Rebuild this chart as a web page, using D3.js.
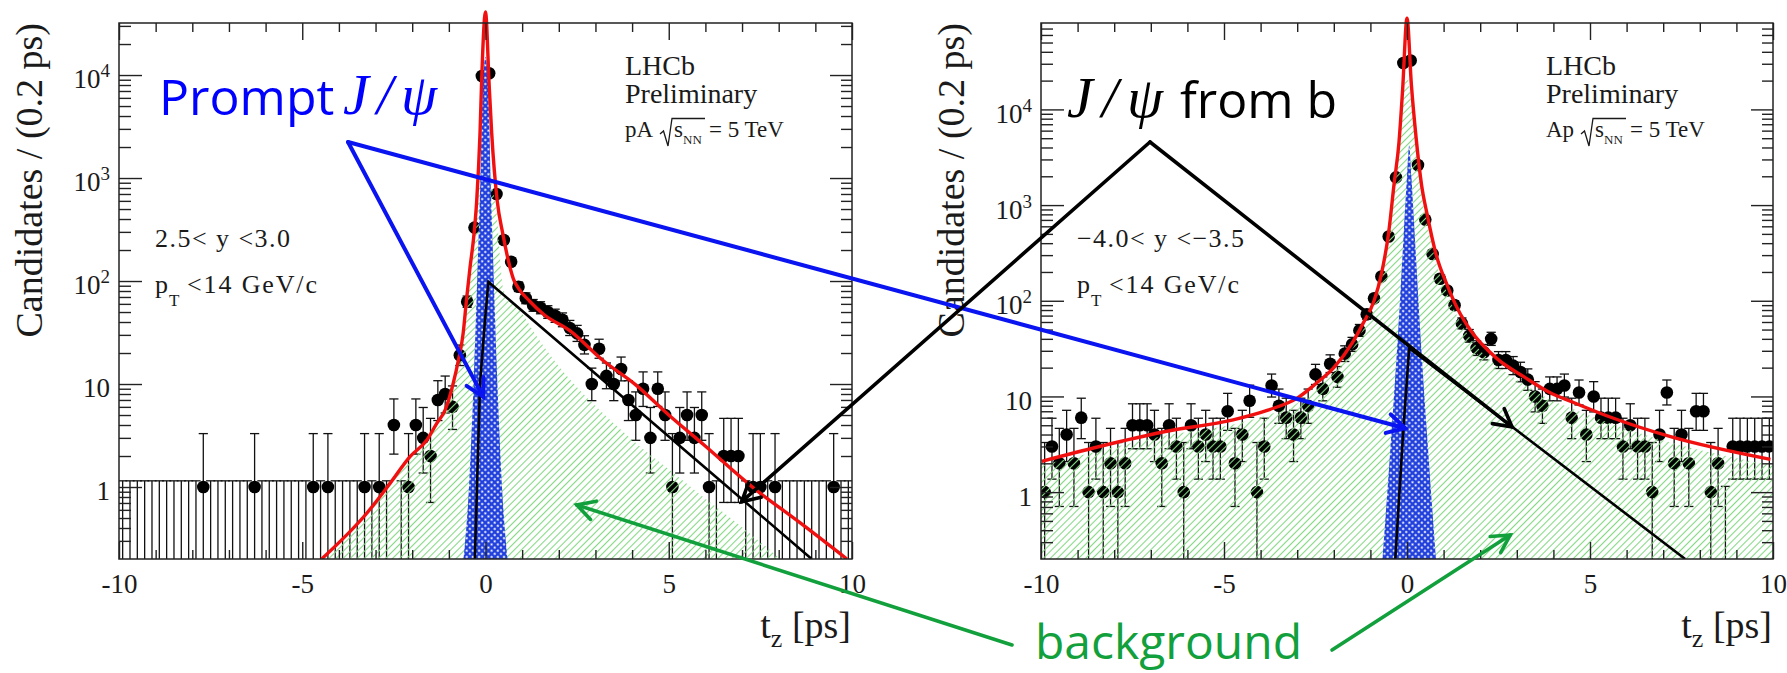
<!DOCTYPE html>
<html>
<head>
<meta charset="utf-8">
<script src="https://cdn.jsdelivr.net/npm/d3@7"></script>
<style>
  body { margin: 0; background: #fff; }
  svg { display: block; }
</style>
</head>
<body>
<svg id="fig" width="1787" height="673"></svg>
<script>
'use strict';
// ---- data: 100 bins of 0.2 ps between -10 and 10 ----
const binCenters = d3.range(100).map(i => -9.9 + 0.2 * i);

// pA, 2.5<y<3.0
const countsPA = [
    0, 0, 0, 0, 0, 0, 0, 0, 0, 0,
    0, 1, 0, 0, 0, 0, 0, 0, 1, 0,
    0, 0, 0, 0, 0, 0, 1, 0, 1, 0,
    0, 0, 0, 1, 0, 1, 0, 4, 0, 1,
    4, 3, 2, 7, 8, 6, 19, 63, 330, 9800,
    10400, 700, 250, 154, 88, 68, 58, 55, 50, 46,
    42, 35, 31, 24, 10, 22, 12, 10, 14, 7,
    5, 9, 3, 9, 5, 1, 3, 5, 3, 5,
    1, 0, 2, 2, 2, 0, 1, 1, 0, 1,
    0, 0, 0, 0, 0, 0, 0, 1, 0, 0
];
// Ap, -4.0<y<-3.5
const countsAp = [
    1, 3, 2, 4, 2, 6, 1, 3, 1, 2,
    1, 2, 5, 5, 5, 4, 2, 5, 3, 1,
    5, 3, 4, 3, 3, 7, 2, 4, 9, 1,
    3, 13, 8, 6, 4, 6, 8, 17, 12, 22,
    16, 28, 35, 49, 72, 106, 179, 470, 1950, 30500,
    32500, 2620, 705, 308, 170, 128, 90, 58, 43, 32,
    29, 40, 24, 24, 21, 18, 15, 10, 8, 12,
    12, 13, 6, 11, 4, 10, 6, 6, 6, 3,
    5, 3, 3, 1, 4, 11, 2, 4, 2, 7,
    7, 1, 2, 0, 3, 3, 3, 3, 3, 3
];

// fit components, [t (ps), candidates]
const totalPA = [[-4.47, 0.2], [-3.24, 0.556], [-2.6, 1.09], [-2.06, 1.97], [-1.6, 2.86],
    [-1.33, 4.15], [-1.1, 5.6], [-0.88, 10.2], [-0.74, 17], [-0.61, 31], [-0.52, 65],
    [-0.42, 138], [-0.33, 250], [-0.24, 600], [-0.15, 2700], [-0.1, 10000], [0, 41000],
    [0.1, 8000], [0.17, 2700], [0.32, 600], [0.47, 290], [0.62, 160], [0.76, 105],
    [0.9, 85], [1.2, 64], [1.6, 47], [2.3, 33], [3.2, 17], [4.1, 9.8], [5.0, 5],
    [5.94, 2.6], [7.31, 0.98], [8.58, 0.45], [9.86, 0.2]];
const bkgPA = [[-4.47, 0.2], [-3.24, 0.54], [-2.6, 1.05], [-2.06, 1.9], [-1.6, 2.75],
    [-1.33, 4], [-1.1, 5.3], [-0.88, 9.5], [-0.74, 16], [-0.61, 28], [-0.52, 55],
    [-0.42, 110], [-0.33, 190], [-0.24, 420], [-0.1, 1500], [0, 2500], [0.1, 1500],
    [0.2, 800], [0.32, 400], [0.4, 160], [0.49, 82], [0.94, 52], [1.4, 29], [2.31, 11],
    [3.21, 5.2], [4.12, 2.65], [5.03, 1.46], [5.94, 0.8], [6.85, 0.45], [7.76, 0.245],
    [8.04, 0.2]];
const promptPA = [[-0.6, 0.2], [-0.45, 1], [-0.32, 11], [-0.2, 200], [-0.14, 960],
    [-0.1, 4000], [-0.05, 11000], [0, 15000], [0.05, 11000], [0.1, 4000], [0.14, 960],
    [0.2, 200], [0.32, 11], [0.45, 1], [0.6, 0.2]];
const fromBPA = [[-0.29, 0.2], [-0.15, 10], [-0.01, 43], [0.08, 98], [8.9, 0.2]];

const totalAp = [[-9.98, 2.1], [-8.4, 3.0], [-6.6, 4.3], [-4.75, 5.7], [-3.8, 7.2],
    [-3.0, 9.6], [-2.5, 13.5], [-2.0, 20], [-1.5, 36], [-1.2, 58], [-0.9, 100],
    [-0.7, 190], [-0.5, 520], [-0.35, 1700], [-0.22, 4500], [-0.12, 16000], [0, 90000],
    [0.12, 18000], [0.25, 5000], [0.4, 1600], [0.55, 800], [0.8, 300], [1.1, 145],
    [1.4, 80], [1.72, 50], [2.45, 25], [3.2, 16], [3.9, 11], [4.5, 8.8], [5.4, 6.4],
    [7.2, 3.8], [9.93, 2.2]];
const bkgAp = [[-10, 1.9], [-8.4, 2.7], [-6.6, 3.9], [-4.75, 5.1], [-3.8, 6.4],
    [-3.0, 8.5], [-2.5, 12], [-2.0, 17.5], [-1.5, 31], [-1.2, 50], [-0.9, 88],
    [-0.7, 165], [-0.5, 450], [-0.35, 1400], [-0.22, 3800], [-0.12, 12000], [0, 22000],
    [0.12, 12000], [0.25, 4000], [0.4, 1300], [0.55, 650], [0.8, 250], [1.1, 120],
    [1.4, 66], [1.72, 41], [2.45, 21], [3.2, 13.5], [3.9, 9.3], [4.5, 7.5], [5.4, 5.5],
    [7.2, 3.3], [10, 1.9]];
const promptAp = [[-0.67, 0.2], [-0.45, 3], [-0.24, 49], [-0.09, 500], [0, 2000],
    [0.06, 4200], [0.12, 2000], [0.21, 500], [0.36, 49], [0.57, 3], [0.79, 0.2]];
const fromBAp = [[-0.32, 0.2], [-0.1, 4.5], [0.06, 32], [7.6, 0.2]];

const yMajorTicks = [1, 10, 100, 1000, 10000];
const xMajorTicks = [-10, -5, 0, 5, 10];

// Poisson intervals used by the plotting (n <= 10), sqrt beyond
const poissonLo = [0, 0.173, 0.708, 1.367, 2.086, 2.840, 3.620, 4.419, 5.232, 6.057, 6.891];
const poissonHi = [1.148, 3.300, 4.638, 5.918, 7.163, 8.382, 9.584, 10.77, 11.95, 13.11, 14.27];

const Y_TOP = 23, Y_BOT = 559;
const SERIF = "'Liberation Serif', 'Times New Roman', serif";
const SANS = "'Open Sans', 'Noto Sans', sans-serif";

const panels = [
    { counts: countsPA, total: totalPA, bkg: bkgPA, prompt: promptPA, fromB: fromBPA,
      x0: 119, x1: 852, yMax: 3.2e4, beam: 'pA', rap: '2.5< y <3.0', rapLen: 135 },
    { counts: countsAp, total: totalAp, bkg: bkgAp, prompt: promptAp, fromB: fromBAp,
      x0: 1041, x1: 1773, yMax: 8e4, beam: 'Ap', rap: '\u22124.0< y <\u22123.5', rapLen: 167 }
];

const svg = d3.select('#fig');
const defs = svg.append('defs');

var hatch = defs.append('pattern')
    .attr('id', 'hatchBkg')
    .attr('patternUnits', 'userSpaceOnUse')
    .attr('width', 8).attr('height', 5)
    .attr('patternTransform', 'rotate(-45)');
hatch.append('line')
    .attr('x1', 0).attr('x2', 8).attr('y1', 2.5).attr('y2', 2.5)
    .attr('stroke', '#84d884').attr('stroke-width', 1.1);

var dots = defs.append('pattern')
    .attr('id', 'promptFill')
    .attr('patternUnits', 'userSpaceOnUse')
    .attr('width', 4.4).attr('height', 4.4)
    .attr('patternTransform', 'rotate(45)');
dots.append('rect').attr('width', 4.4).attr('height', 4.4).attr('fill', '#2140dc');
dots.append('circle').attr('cx', 2.2).attr('cy', 2.2).attr('r', 1.05).attr('fill', '#fff');

function interval(n) {
    if (n <= 10) return [poissonLo[n], poissonHi[n]];
    var s = Math.sqrt(n + 0.25);
    return [n - s + 0.5, n + s + 0.5];
}

function logMinors(max) {
    var out = [];
    for (var e = -1; e <= 5; e++) {
        for (var m = 2; m <= 9; m++) {
            var v = m * Math.pow(10, e);
            if (v > 0.2 + 1e-9 && v < max) out.push(v);
        }
    }
    return out;
}

function styleAxis(sel) {
    sel.select('.domain').remove();
    sel.selectAll('line').attr('stroke', '#222').attr('stroke-width', 1.4);
    sel.attr('font-family', SERIF).attr('font-size', 27);
    sel.selectAll('text').attr('fill', '#1a1a1a');
}

panels.forEach(function(p, k) {
    var x = d3.scaleLinear().domain([-10, 10]).range([p.x0, p.x1]);
    var y = d3.scaleLog().domain([0.2, p.yMax]).range([Y_BOT, Y_TOP]);
    var g = svg.append('g').attr('class', 'panel' + k);

    defs.append('clipPath').attr('id', 'clip' + k)
        .append('rect')
        .attr('x', p.x0).attr('y', Y_TOP)
        .attr('width', p.x1 - p.x0).attr('height', Y_BOT - Y_TOP);
    // red peak pokes above the frame in the original
    defs.append('clipPath').attr('id', 'clipTop' + k)
        .append('rect')
        .attr('x', p.x0).attr('y', 0)
        .attr('width', p.x1 - p.x0).attr('height', Y_BOT);

    var plot = g.append('g').attr('clip-path', 'url(#clip' + k + ')');

    // data points with asymmetric Poisson errors
    var pts = binCenters.map(function(t, i) { return { t: t, n: p.counts[i] }; });
    var bars = plot.append('g').attr('stroke', '#111').attr('stroke-width', 1.3);
    pts.forEach(function(d) {
        var iv = interval(d.n), xx = x(d.t);
        var yHi = y(iv[1]);
        var yLo = iv[0] > 0.2 ? y(iv[0]) : Y_BOT + 2;
        bars.append('line').attr('x1', xx).attr('x2', xx).attr('y1', yLo).attr('y2', yHi);
        bars.append('line').attr('x1', xx - 4.6).attr('x2', xx + 4.6).attr('y1', yHi).attr('y2', yHi);
        if (iv[0] > 0.2) {
            bars.append('line').attr('x1', xx - 4.6).attr('x2', xx + 4.6).attr('y1', yLo).attr('y2', yLo);
        }
    });
    plot.append('g').selectAll('circle')
        .data(pts.filter(function(d) { return d.n > 0; }))
        .join('circle')
        .attr('cx', function(d) { return x(d.t); })
        .attr('cy', function(d) { return y(d.n); })
        .attr('r', 6.3)
        .attr('fill', '#000');

    // fit components
    var area = d3.area()
        .x(function(d) { return x(d[0]); })
        .y0(Y_BOT)
        .y1(function(d) { return y(d[1]); })
        .curve(d3.curveMonotoneX);
    plot.append('path').datum(p.bkg).attr('d', area).attr('fill', 'url(#hatchBkg)');
    plot.append('path').datum(p.prompt).attr('d', area).attr('fill', 'url(#promptFill)');

    var bLine = d3.line()
        .x(function(d) { return x(d[0]); })
        .y(function(d) { return y(d[1]); });
    plot.append('path').datum(p.fromB).attr('d', bLine)
        .attr('fill', 'none').attr('stroke', '#000').attr('stroke-width', 2.6);

    var totLine = d3.line()
        .x(function(d) { return x(d[0]); })
        .y(function(d) { return y(d[1]); })
        .curve(d3.curveMonotoneX);
    g.append('path').datum(p.total).attr('d', totLine)
        .attr('clip-path', 'url(#clipTop' + k + ')')
        .attr('fill', 'none').attr('stroke', '#f01010').attr('stroke-width', 3.4)
        .attr('stroke-linejoin', 'round');

    // frame and ticks
    g.append('rect')
        .attr('x', p.x0).attr('y', Y_TOP)
        .attr('width', p.x1 - p.x0).attr('height', Y_BOT - Y_TOP)
        .attr('fill', 'none').attr('stroke', '#222').attr('stroke-width', 1.5);

    var xMinor = d3.range(-10, 11).filter(function(v) { return v % 5 !== 0; });
    g.append('g').attr('transform', 'translate(0,' + Y_BOT + ')')
        .call(d3.axisBottom(x).tickValues(xMajorTicks).tickSizeInner(-17).tickSizeOuter(0)
            .tickPadding(15).tickFormat(function(d) { return String(d); }))
        .call(styleAxis);
    g.append('g').attr('transform', 'translate(0,' + Y_BOT + ')')
        .call(d3.axisBottom(x).tickValues(xMinor).tickSizeInner(-9).tickSizeOuter(0).tickFormat(''))
        .call(styleAxis);
    g.append('g').attr('transform', 'translate(0,' + Y_TOP + ')')
        .call(d3.axisTop(x).tickValues(xMajorTicks).tickSizeInner(-17).tickSizeOuter(0).tickFormat(''))
        .call(styleAxis);
    g.append('g').attr('transform', 'translate(0,' + Y_TOP + ')')
        .call(d3.axisTop(x).tickValues(xMinor).tickSizeInner(-9).tickSizeOuter(0).tickFormat(''))
        .call(styleAxis);

    var yMinor = logMinors(p.yMax);
    var leftAxis = g.append('g').attr('transform', 'translate(' + p.x0 + ',0)')
        .call(d3.axisLeft(y).tickValues(yMajorTicks).tickSizeInner(-23).tickSizeOuter(0)
            .tickPadding(9).tickFormat(function(d) { return d >= 100 ? '10' : String(d); }))
        .call(styleAxis);
    leftAxis.selectAll('.tick text')
        .attr('dy', '0.48em')
        .each(function(d) {
            if (d >= 100) {
                d3.select(this).append('tspan')
                    .attr('dy', -11).attr('font-size', 19)
                    .text(Math.round(Math.log10(d)));
            }
        });
    g.append('g').attr('transform', 'translate(' + p.x0 + ',0)')
        .call(d3.axisLeft(y).tickValues(yMinor).tickSizeInner(-12).tickSizeOuter(0).tickFormat(''))
        .call(styleAxis);
    g.append('g').attr('transform', 'translate(' + p.x1 + ',0)')
        .call(d3.axisRight(y).tickValues(yMajorTicks).tickSizeInner(-22).tickSizeOuter(0).tickFormat(''))
        .call(styleAxis);
    g.append('g').attr('transform', 'translate(' + p.x1 + ',0)')
        .call(d3.axisRight(y).tickValues(yMinor).tickSizeInner(-11).tickSizeOuter(0).tickFormat(''))
        .call(styleAxis);

    // axis titles
    g.append('text')
        .attr('transform', 'translate(' + (p.x0 - 77) + ',' + Y_TOP + ') rotate(-90)')
        .attr('text-anchor', 'end')
        .attr('font-family', SERIF).attr('font-size', 38).attr('fill', '#1a1a1a')
        .text('Candidates / (0.2 ps)');
    var xt = g.append('text')
        .attr('x', p.x1 - 1).attr('y', 638)
        .attr('text-anchor', 'end')
        .attr('font-family', SERIF).attr('font-size', 38).attr('fill', '#1a1a1a');
    xt.append('tspan').text('t');
    xt.append('tspan').attr('dy', 9).attr('font-size', 26).text('z');
    xt.append('tspan').attr('dy', -9).text(' [ps]');

    // LHCb label block
    var lx = p.x1 - 227;
    var lab = g.append('g').attr('font-family', SERIF).attr('fill', '#1a1a1a');
    lab.append('text').attr('x', lx).attr('y', 75).attr('font-size', 28).text('LHCb');
    lab.append('text').attr('x', lx).attr('y', 103).attr('font-size', 28).text('Preliminary');
    lab.append('text').attr('x', lx).attr('y', 137).attr('font-size', 23).text(p.beam);
    // square root drawn as a stroke, TLatex style
    lab.append('path')
        .attr('d', 'M' + (lx + 35) + ',134L' + (lx + 38.5) + ',131L' + (lx + 43) + ',146L' +
            (lx + 47) + ',118.5L' + (lx + 80) + ',118.5')
        .attr('fill', 'none').attr('stroke', '#1a1a1a').attr('stroke-width', 1.3);
    lab.append('text').attr('x', lx + 49).attr('y', 137).attr('font-size', 23).text('s');
    lab.append('text').attr('x', lx + 58).attr('y', 144).attr('font-size', 13).text('NN');
    lab.append('text').attr('x', lx + 84).attr('y', 137).attr('font-size', 23).text('= 5 TeV');

    // kinematic range
    var kx = p.x0 + 36;
    lab.append('text').attr('x', kx).attr('y', 247).attr('font-size', 26)
        .attr('textLength', p.rapLen).attr('lengthAdjust', 'spacing').text(p.rap);
    lab.append('text').attr('x', kx).attr('y', 293).attr('font-size', 26).text('p');
    lab.append('text').attr('x', kx + 14).attr('y', 306).attr('font-size', 17).text('T');
    lab.append('text').attr('x', kx + 32).attr('y', 293).attr('font-size', 26)
        .attr('textLength', 130).attr('lengthAdjust', 'spacing').text('<14 GeV/c');

    p.x = x;
    p.y = y;
});

// ---- annotations drawn over both panels ----
const annotations = [
    { color: '#0a14f0', width: 4, from: [348, 142], panel: 0, tip: [-0.06, 7.5] },
    { color: '#0a14f0', width: 4, from: [348, 142], panel: 1, tip: [-0.05, 4.65] },
    { color: '#000', width: 3.6, from: [1150, 142], panel: 0, tip: [6.99, 0.72] },
    { color: '#000', width: 3.6, from: [1150, 142], panel: 1, tip: [2.87, 4.8] },
    { color: '#12a03c', width: 3.6, from: [1012, 645], panel: 0, tip: [2.49, 0.67] },
    { color: '#12a03c', width: 3.6, from: [1332, 650], panel: 1, tip: [2.82, 0.356] }
];
var ann = svg.append('g').attr('fill', 'none').attr('stroke-linecap', 'round');
annotations.forEach(function(a) {
    var p = panels[a.panel];
    var tx = p.x(a.tip[0]), ty = p.y(a.tip[1]);
    var ang = Math.atan2(ty - a.from[1], tx - a.from[0]);
    var L = 20, w = 0.5;
    var w1 = [tx - L * Math.cos(ang - w), ty - L * Math.sin(ang - w)];
    var w2 = [tx - L * Math.cos(ang + w), ty - L * Math.sin(ang + w)];
    ann.append('line')
        .attr('x1', a.from[0]).attr('y1', a.from[1]).attr('x2', tx).attr('y2', ty)
        .attr('stroke', a.color).attr('stroke-width', a.width);
    ann.append('path')
        .attr('d', 'M' + w1 + 'L' + tx + ',' + ty + 'L' + w2)
        .attr('stroke', a.color).attr('stroke-width', a.width).attr('stroke-linejoin', 'miter');
});

svg.append('text').attr('x', 159).attr('y', 115)
    .attr('font-family', SANS).attr('font-size', 50).attr('fill', '#0000ff').text('Prompt');
svg.append('text').attr('x', 343).attr('y', 114)
    .attr('font-family', SERIF).attr('font-style', 'italic').attr('font-size', 58)
    .attr('fill', '#0000ff').attr('textLength', 94).attr('lengthAdjust', 'spacing').text('J/\u03C8');
svg.append('text').attr('x', 1067).attr('y', 117)
    .attr('font-family', SERIF).attr('font-style', 'italic').attr('font-size', 58)
    .attr('fill', '#000').attr('textLength', 96).attr('lengthAdjust', 'spacing').text('J/\u03C8');
svg.append('text').attr('x', 1180).attr('y', 118)
    .attr('font-family', SANS).attr('font-size', 50).attr('fill', '#000').text('from b');
svg.append('text').attr('x', 1035).attr('y', 659)
    .attr('font-family', SANS).attr('font-size', 48).attr('fill', '#12a03c').text('background');
</script>
</body>
</html>
